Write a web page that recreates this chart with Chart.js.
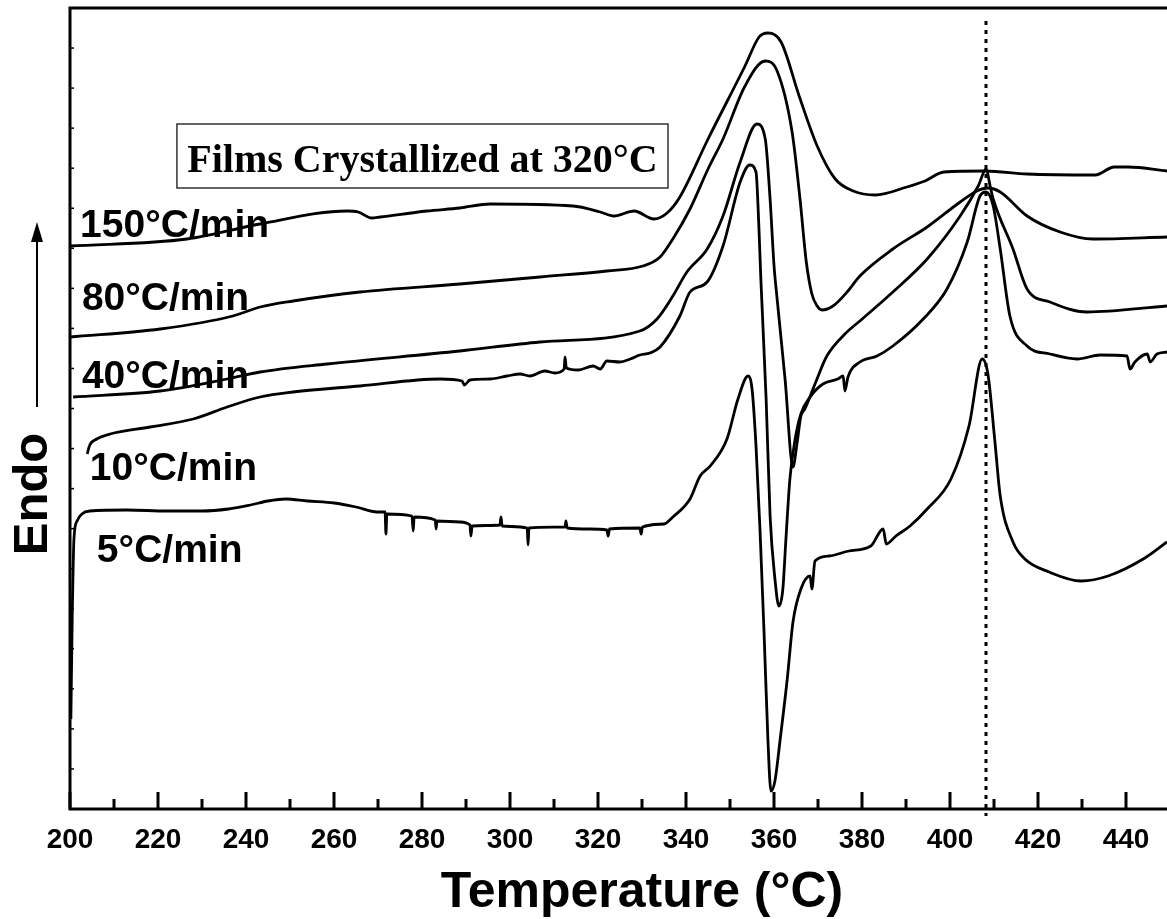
<!DOCTYPE html>
<html>
<head>
<meta charset="utf-8">
<title>DSC heating scans</title>
<script src="https://cdn.jsdelivr.net/npm/chart.js@4.4.1/dist/chart.umd.min.js"></script>
<style>
  html, body { margin: 0; padding: 0; background: #fff; }
  #wrap { width: 1167px; height: 919px; }
</style>
</head>
<body>
<div id="wrap"><canvas id="dscChart" width="1167" height="919"></canvas></div>
<script>
// Temperature (°C) and heat flow (arb. units, endo up, curves offset)
var temp150 = [200.0, 226.6, 243.2, 263.0, 265.5, 268.6, 270.5, 281.1, 288.6, 295.5, 314.3, 320.5, 323.6, 328.2, 332.7, 335.7, 338.6, 345.0, 353.4, 356.6, 358.6, 361.6, 365.7, 369.8, 373.9, 378.0, 383.0, 390.2, 394.3, 398.6, 408.0, 417.5, 433.0, 437.3, 440.5, 449.3];
var flow150 = [562, 569, 584, 597, 596, 590, 591, 597, 600, 604, 602, 596, 592, 597, 589, 595, 611, 669, 742, 771, 775, 766, 712, 662, 629, 617, 613, 621, 627, 636, 637, 634, 633, 641, 641, 637];

var temp80 = [200.0, 220.5, 237.0, 243.2, 250.7, 265.9, 288.6, 306.8, 322.0, 330.2, 334.1, 337.0, 340.9, 345.0, 348.4, 353.4, 358.0, 360.7, 364.1, 365.9, 367.3, 368.6, 369.8, 370.9, 373.4, 376.6, 379.5, 387.0, 394.8, 402.3, 406.1, 408.6, 411.4, 417.5, 425.0, 432.5, 449.3];
var flow80 = [471, 479, 492, 501, 507, 516, 524, 531, 537, 542, 551, 569, 599, 639, 669, 722, 747, 737, 676, 609, 547, 514, 502, 498, 502, 516, 532, 559, 581, 606, 617, 620, 616, 592, 576, 569, 571];

var temp40 = [200.7, 220.5, 235.7, 243.2, 258.4, 288.6, 306.8, 329.5, 333.4, 337.0, 340.2, 344.8, 348.4, 352.3, 356.1, 358.0, 359.1, 360.0, 360.7, 362.5, 364.3, 365.2, 366.1, 367.0, 369.3, 372.0, 376.1, 379.5, 387.0, 394.8, 402.3, 406.4, 408.2, 409.1, 409.8, 414.3, 417.5, 422.7, 431.1, 449.3];
var flow40 = [411, 417, 429, 436, 444, 457, 466, 477, 489, 512, 536, 559, 592, 646, 684, 669, 609, 542, 509, 429, 341, 364, 392, 399, 424, 452, 474, 487, 516, 549, 592, 622, 639, 622, 609, 559, 519, 506, 496, 502];

var temp10 = [203.9, 204.5, 206.1, 209.1, 218.2, 228.0, 235.7, 243.2, 250.7, 265.9, 284.1, 289.1, 289.6, 290.9, 295.5, 299.3, 302.3, 304.5, 307.9, 310.2, 312.3, 312.5, 312.8, 315.5, 318.9, 320.5, 322.0, 325.0, 327.3, 329.5, 331.8, 334.1, 338.6, 340.9, 344.8, 348.4, 352.3, 354.5, 355.9, 356.6, 357.0, 358.2, 359.1, 360.2, 361.1, 362.0, 362.7, 363.6, 364.8, 366.1, 368.2, 371.1, 374.5, 375.7, 376.1, 376.8, 379.5, 383.4, 387.0, 393.9, 399.3, 403.9, 406.8, 408.2, 409.8, 411.4, 413.6, 417.5, 422.7, 428.9, 434.1, 440.2, 440.9, 442.0, 444.8, 445.5, 447.0, 449.3];
var flow10 = [354, 363, 369, 374, 381, 389, 401, 411, 416, 422, 429, 427, 423, 428, 429, 432, 434, 432, 437, 435, 439, 451, 440, 438, 442, 439, 447, 446, 449, 453, 455, 461, 492, 516, 526, 562, 626, 643, 636, 576, 529, 409, 292, 229, 202, 219, 269, 329, 369, 394, 411, 424, 429, 432, 417, 431, 446, 452, 462, 489, 519, 566, 612, 616, 602, 559, 492, 462, 454, 449, 453, 452, 439, 446, 454, 446, 454, 456];

var temp5 = [200.2, 200.5, 200.9, 201.6, 202.7, 204.5, 213.0, 222.0, 230.0, 236.0, 241.0, 245.0, 249.0, 254.0, 260.0, 265.0, 269.8, 271.6, 271.8, 272.0, 277.7, 278.0, 278.2, 283.0, 283.2, 283.4, 288.6, 290.9, 291.1, 291.4, 297.7, 297.95, 298.2, 303.9, 304.1, 304.3, 312.5, 312.7, 313.0, 318.0, 322.0, 322.3, 322.6, 329.5, 329.8, 330.1, 335.0, 337.0, 340.9, 343.2, 345.5, 349.3, 351.8, 354.1, 355.0, 355.9, 356.8, 357.7, 358.6, 359.3, 360.2, 361.4, 363.0, 364.3, 366.1, 368.2, 368.6, 369.3, 372.5, 377.0, 382.0, 384.8, 385.5, 387.7, 390.9, 394.8, 400.2, 404.3, 407.3, 408.6, 410.2, 411.4, 414.3, 417.0, 422.5, 429.8, 435.9, 443.9, 449.3];
var flow5 = [89, 189, 269, 287, 294, 297, 298, 297, 297, 299, 303, 307, 309, 307, 305, 301, 296, 296, 274, 294, 292, 277, 291, 288, 279, 287, 286, 283, 272, 282, 283, 291, 282, 280, 263, 280, 281, 287, 280, 279, 278, 272, 279, 280, 274, 281, 284, 291, 309, 332, 342, 369, 409, 432, 419, 362, 279, 179, 69, 17, 27, 69, 129, 186, 219, 232, 219, 247, 252, 257, 262, 279, 264, 272, 282, 299, 329, 382, 449, 434, 366, 312, 266, 249, 236, 227, 232, 249, 266];

var rateLabels = ['150°C/min', '80°C/min', '40°C/min', '10°C/min', '5°C/min'];
var xTickLabels = ['200', '220', '240', '260', '280', '300', '320', '340', '360', '380', '400', '420', '440'];
var markerTemp = 408.1;
var boxTitle = 'Films Crystallized at 320°C';

var SANS = '"Liberation Sans", Arial, sans-serif';
var SERIF = '"Liberation Serif", "Times New Roman", serif';

function series(t, f) {
    return t.map(function(v, i) { return { x: v, y: f[i] }; });
}

function curve(label, t, f) {
    return {
        label: label,
        data: series(t, f),
        showLine: true,
        borderColor: '#000',
        borderWidth: 2.8,
        pointRadius: 0,
        fill: false,
        cubicInterpolationMode: 'monotone'
    };
}

var decor = {
    id: 'decor',
    beforeDatasetsDraw: function(chart) {
        // dotted marker line at the high-temperature melting peak
        var c = chart.ctx, xs = chart.scales.x, ys = chart.scales.y;
        var px = Math.round(xs.getPixelForValue(markerTemp));
        c.save();
        c.strokeStyle = '#000';
        c.lineWidth = 3;
        c.setLineDash([4, 5]);
        c.beginPath();
        c.moveTo(px, ys.getPixelForValue(787));
        c.lineTo(px, chart.chartArea.bottom + 7);
        c.stroke();
        c.restore();
    },
    afterDraw: function(chart, args, opts) {
        var c = chart.ctx, a = chart.chartArea, xs = chart.scales.x, ys = chart.scales.y;
        c.save();
        c.strokeStyle = '#000';
        c.fillStyle = '#000';

        // frame (right side falls off the picture)
        c.lineWidth = 3;
        c.beginPath();
        c.moveTo(a.right + 2, a.top);
        c.lineTo(a.left, a.top);
        c.lineTo(a.left, a.bottom);
        c.lineTo(a.right + 2, a.bottom);
        c.stroke();

        // inward ticks on x
        c.lineWidth = 3;
        xs.ticks.forEach(function(t) {
            var px = Math.round(xs.getPixelForValue(t.value));
            var len = Math.round(t.value) % 20 === 0 ? 17 : 10;
            c.beginPath();
            c.moveTo(px, a.bottom);
            c.lineTo(px, a.bottom - len);
            c.stroke();
        });
        // small inward ticks on y
        c.lineWidth = 1.5;
        ys.ticks.forEach(function(t) {
            var py = ys.getPixelForValue(t.value);
            c.beginPath();
            c.moveTo(a.left, py);
            c.lineTo(a.left + 4, py);
            c.stroke();
        });

        // rate labels
        c.font = 'bold 39px ' + SANS;
        c.textAlign = 'left';
        c.textBaseline = 'middle';
        rateLabels.forEach(function(txt, i) {
            var p = opts.labelAnchors[i];
            c.fillText(txt, xs.getPixelForValue(p[0]), ys.getPixelForValue(p[1]));
        });

        // annotation box
        var b = opts.box;
        var bx0 = xs.getPixelForValue(b[0]), bx1 = xs.getPixelForValue(b[1]);
        var by0 = ys.getPixelForValue(b[2]), by1 = ys.getPixelForValue(b[3]);
        c.fillStyle = '#fff';
        c.fillRect(bx0, by0, bx1 - bx0, by1 - by0);
        c.fillStyle = '#000';
        c.strokeStyle = '#333';
        c.lineWidth = 1.5;
        c.strokeRect(bx0, by0, bx1 - bx0, by1 - by0);
        c.font = 'bold 40px ' + SERIF;
        c.textAlign = 'center';
        c.textBaseline = 'alphabetic';
        c.fillText(boxTitle, (bx0 + bx1) / 2, by1 - 16);

        // x title, centred on the full 200-460 axis
        var mid = (xs.getPixelForValue(200) + xs.getPixelForValue(460)) / 2;
        c.font = 'bold 50px ' + SANS;
        c.fillText('Temperature (°C)', mid, 907);

        // y title with arrow
        c.save();
        c.translate(a.left - 37, 494);
        c.rotate(-Math.PI / 2);
        c.font = 'bold 49px ' + SANS;
        c.textAlign = 'center';
        c.textBaseline = 'middle';
        c.fillText('Endo', 0, 0);
        c.restore();
        var ax = a.left - 33;
        c.strokeStyle = '#000';
        c.lineWidth = 2;
        c.beginPath();
        c.moveTo(ax, 407);
        c.lineTo(ax, 236);
        c.stroke();
        c.beginPath();
        c.moveTo(ax, 222);
        c.lineTo(ax - 6, 242);
        c.lineTo(ax + 6, 242);
        c.closePath();
        c.fill();
        c.restore();
    }
};

var ctx = document.getElementById('dscChart').getContext('2d');
var dscChart = new Chart(ctx, {
    type: 'scatter',
    data: {
        datasets: [
            curve(rateLabels[0], temp150, flow150),
            curve(rateLabels[1], temp80, flow80),
            curve(rateLabels[2], temp40, flow40),
            curve(rateLabels[3], temp10, flow10),
            curve(rateLabels[4], temp5, flow5)
        ]
    },
    options: {
        responsive: false,
        animation: false,
        devicePixelRatio: 1,
        layout: { padding: { top: 8, right: 0, left: 0, bottom: 0 } },
        plugins: {
            legend: { display: false },
            tooltip: { enabled: false },
            decor: {
                labelAnchors: [[202.3, 582], [202.7, 509], [202.7, 431], [204.5, 339], [206.1, 257]],
                box: [224.3, 335.9, 684, 620]
            }
        },
        scales: {
            x: {
                type: 'linear',
                min: 200,
                max: 449.3,
                border: { display: false },
                grid: { display: false, drawTicks: false },
                ticks: {
                    stepSize: 10,
                    includeBounds: false,
                    autoSkip: false,
                    maxRotation: 0,
                    padding: 14,
                    color: '#000',
                    font: { family: SANS, weight: 'bold', size: 28 },
                    callback: function(v) {
                        var s = String(Math.round(v));
                        return xTickLabels.indexOf(s) >= 0 ? s : '';
                    }
                },
                afterFit: function(s) { s.height = 110; }
            },
            y: {
                type: 'linear',
                min: -1,
                max: 800,
                border: { display: false },
                grid: { display: false, drawTicks: false },
                ticks: { display: false, stepSize: 40 },
                afterFit: function(s) { s.width = 70; }
            }
        }
    },
    plugins: [decor]
});
</script>
</body>
</html>
